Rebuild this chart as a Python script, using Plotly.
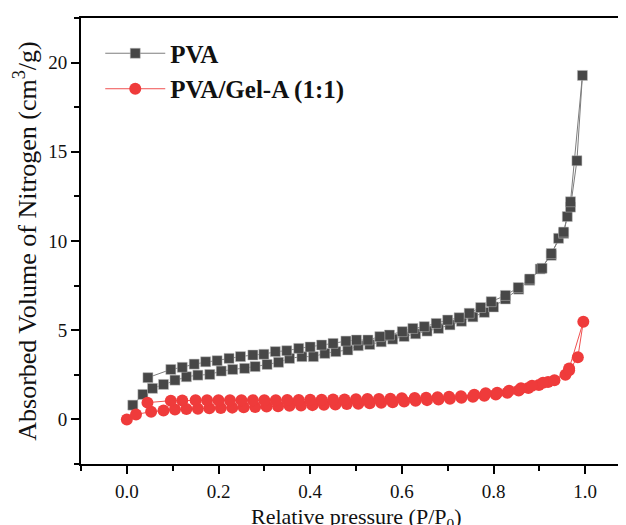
import plotly.graph_objects as go

# PVA: adsorption branch (rising) then desorption branch (falling)
pva_ads_x = [0.013, 0.035, 0.056, 0.08, 0.105, 0.13, 0.155, 0.181, 0.206, 0.231, 0.257, 0.28,
             0.306, 0.331, 0.355, 0.382, 0.407, 0.432, 0.456, 0.482, 0.505, 0.53, 0.555, 0.58,
             0.605, 0.63, 0.655, 0.68, 0.705, 0.73, 0.755, 0.78, 0.8, 0.826, 0.855, 0.879,
             0.902, 0.926, 0.942, 0.953, 0.961, 0.968, 0.982, 0.994]
pva_ads_y = [0.8, 1.4, 1.74, 1.96, 2.2, 2.39, 2.48, 2.52, 2.71, 2.8, 2.86, 2.96,
             3.08, 3.2, 3.42, 3.52, 3.52, 3.7, 3.8, 3.89, 4.13, 4.2, 4.35, 4.5,
             4.65, 4.8, 4.95, 5.1, 5.3, 5.5, 5.75, 6.0, 6.3, 6.75, 7.3, 7.8,
             8.43, 9.2, 10.15, 10.43, 11.37, 11.9, 14.5, 19.28]
pva_des_x = [0.968, 0.953, 0.926, 0.906, 0.879, 0.854, 0.826, 0.795, 0.772, 0.747, 0.725, 0.7,
             0.675, 0.649, 0.624, 0.601, 0.573, 0.552, 0.526, 0.501, 0.478, 0.45, 0.425, 0.4,
             0.375, 0.349, 0.324, 0.299, 0.275, 0.248, 0.223, 0.197, 0.172, 0.147, 0.121, 0.096,
             0.046]
pva_des_y = [12.2, 10.5, 9.3, 8.47, 7.87, 7.39, 6.95, 6.6, 6.27, 5.95, 5.7, 5.57,
             5.38, 5.2, 5.1, 4.92, 4.73, 4.64, 4.45, 4.45, 4.39, 4.26, 4.17, 4.06,
             3.98, 3.85, 3.8, 3.65, 3.61, 3.52, 3.42, 3.29, 3.23, 3.1, 2.92, 2.8,
             2.34]

# PVA/Gel-A (1:1)
gel_ads_x = [0.0, 0.02, 0.053, 0.08, 0.105, 0.13, 0.155, 0.18, 0.205, 0.23, 0.255, 0.28,
             0.305, 0.33, 0.355, 0.38, 0.405, 0.43, 0.455, 0.48, 0.505, 0.53, 0.555, 0.58,
             0.605, 0.63, 0.655, 0.68, 0.705, 0.73, 0.755, 0.78, 0.805, 0.83, 0.855, 0.876,
             0.899, 0.919, 0.957, 0.965, 0.984, 0.996]
gel_ads_y = [0.0, 0.28, 0.43, 0.5, 0.55, 0.58, 0.6, 0.62, 0.64, 0.66, 0.68, 0.7,
             0.72, 0.74, 0.76, 0.78, 0.8, 0.82, 0.84, 0.86, 0.88, 0.9, 0.93, 0.96,
             1.0, 1.04, 1.08, 1.12, 1.16, 1.21, 1.27, 1.33, 1.4, 1.5, 1.62, 1.76,
             1.93, 2.1, 2.5, 2.75, 3.48, 5.48]
gel_des_x = [0.965, 0.933, 0.908, 0.884, 0.86, 0.834, 0.808, 0.783, 0.758, 0.729, 0.703, 0.678,
             0.653, 0.628, 0.6, 0.575, 0.55, 0.525, 0.5, 0.475, 0.45, 0.425, 0.4, 0.375,
             0.35, 0.325, 0.3, 0.275, 0.25, 0.225, 0.2, 0.175, 0.15, 0.121, 0.096, 0.045]
gel_des_y = [2.85, 2.2, 2.05, 1.88, 1.74, 1.6, 1.5, 1.46, 1.38, 1.3, 1.27, 1.24,
             1.22, 1.2, 1.18, 1.16, 1.15, 1.14, 1.13, 1.12, 1.11, 1.1, 1.1, 1.09,
             1.09, 1.08, 1.08, 1.08, 1.08, 1.07, 1.07, 1.07, 1.07, 1.06, 1.05, 0.94]

x_ticks = [0.0, 0.2, 0.4, 0.6, 0.8, 1.0]
x_tick_labels = ["0.0", "0.2", "0.4", "0.6", "0.8", "1.0"]
y_ticks = [0, 5, 10, 15, 20]

SERIF = "Liberation Serif, Times New Roman, serif"

fig = go.Figure()
fig.add_trace(go.Scatter(
    x=pva_ads_x + pva_des_x, y=pva_ads_y + pva_des_y,
    mode="lines+markers", name="PVA",
    line=dict(color="#7d7d7d", width=1),
    marker=dict(symbol="square", size=10, color="#474747",
                line=dict(color="#bdbdbd", width=0.5)),
))
fig.add_trace(go.Scatter(
    x=gel_ads_x + gel_des_x, y=gel_ads_y + gel_des_y,
    mode="lines+markers", name="PVA/Gel-A (1:1)",
    line=dict(color="#f05050", width=1),
    marker=dict(symbol="circle", size=12, color="#ef3b3b",
                line=dict(width=0)),
))

axis_common = dict(
    showline=True, linecolor="black", linewidth=2, mirror=True,
    ticks="outside", tickcolor="black", tickwidth=2, ticklen=8,
    showgrid=False, zeroline=False,
    tickfont=dict(family=SERIF, size=19, color="#111"),
)
fig.update_xaxes(
    range=[-0.1, 1.1], tickvals=x_ticks, ticktext=x_tick_labels,
    ticklabelstandoff=1,
    minor=dict(dtick=0.1, tick0=0, ticks="outside", ticklen=5, tickwidth=1.5, tickcolor="black"),
    **axis_common,
)
fig.update_yaxes(
    range=[-2.5, 22.5], tickvals=y_ticks,
    minor=dict(dtick=2.5, tick0=0, ticks="outside", ticklen=5, tickwidth=1.5, tickcolor="black"),
    title=dict(text="Absorbed Volume of Nitrogen (cm<sup>3</sup>/g)",
               font=dict(family=SERIF, size=26, color="#111"), standoff=4),
    **axis_common,
)
fig.update_layout(
    width=626, height=525,
    margin=dict(l=73, r=1, t=10, b=69),
    plot_bgcolor="white", paper_bgcolor="white",
    legend=dict(x=0.035, y=0.972, xanchor="left", yanchor="top",
                bgcolor="rgba(0,0,0,0)", itemwidth=60,
                font=dict(family=SERIF, size=25, color="#111", weight="bold"),
                tracegroupgap=0),
    showlegend=True,
    annotations=[dict(
        text="Relative pressure (P/P<sub>0</sub>)", showarrow=False,
        xref="paper", yref="paper", x=0.5, xanchor="center",
        y=-0.1545, yanchor="bottom", borderpad=0,
        font=dict(family=SERIF, size=22, color="#111"),
    )],
)
fig.write_html("out.html")
